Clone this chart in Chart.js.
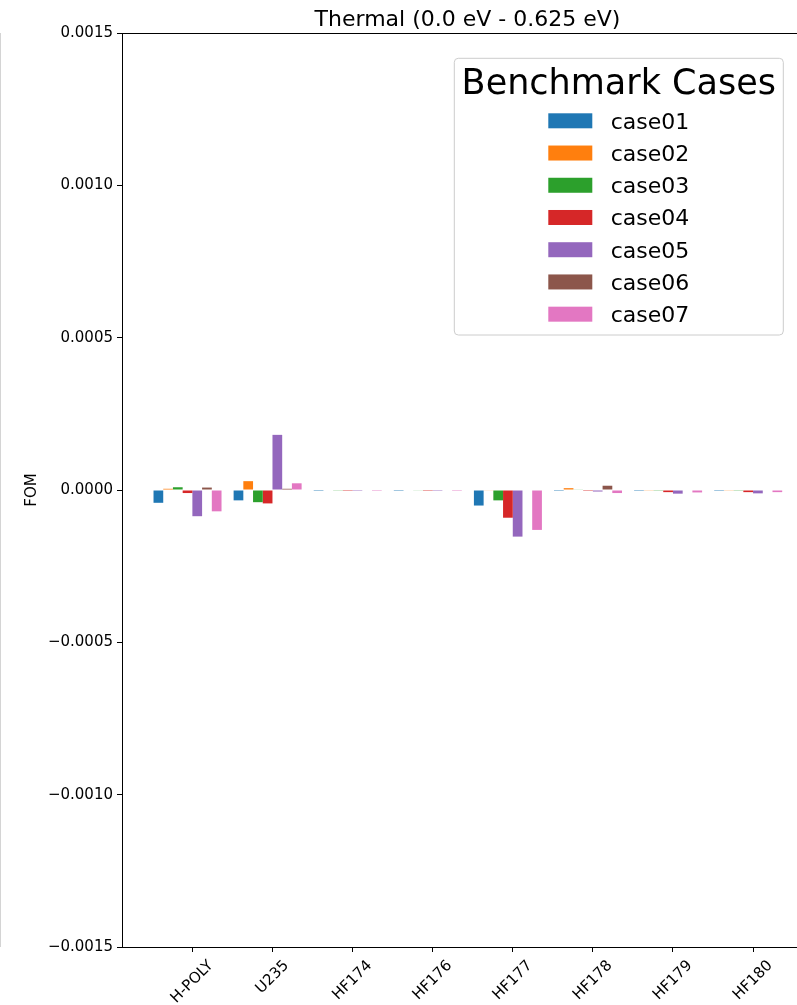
<!DOCTYPE html>
<html>
<head>
<meta charset="utf-8">
<script src="https://cdn.jsdelivr.net/npm/chart.js@4/dist/chart.umd.min.js"></script>
<style>
  html, body { margin: 0; padding: 0; background: #fff; overflow: hidden; }
  canvas { display: block; }
</style>
</head>
<body>
<canvas id="c" width="830" height="1005"></canvas>
<script>
// Isotopes / materials along the x axis
const categories = ['H-POLY', 'U235', 'HF174', 'HF176', 'HF177', 'HF178', 'HF179', 'HF180'];

// Figure of merit per benchmark case
const case01 = [-4.2e-5, -3.4e-5, -3e-6, -3e-6, -5.1e-5, -3e-6, -3e-6, -3e-6];
const case02 = [4e-6, 2.9e-5, 0, 0, -2e-6, 6e-6, -1e-6, -1e-6];
const case03 = [9e-6, -4.0e-5, -1e-6, -2e-6, -3.4e-5, 2e-6, -2.5e-6, -2.5e-6];
const case04 = [-1e-5, -4.4e-5, -3e-6, -3e-6, -9.1e-5, -3e-6, -7e-6, -7e-6];
const case05 = [-8.6e-5, 1.81e-4, -3e-6, -3e-6, -1.53e-4, -5e-6, -1.2e-5, -1.1e-5];
const case06 = [8e-6, 4e-6, 0, 0, 0, 1.4e-5, 0, 0];
const case07 = [-7.0e-5, 2.2e-5, -3e-6, -3e-6, -1.31e-4, -1e-5, -8e-6, -7e-6];

const caseNames = ['case01', 'case02', 'case03', 'case04', 'case05', 'case06', 'case07'];
const caseValues = [case01, case02, case03, case04, case05, case06, case07];
const caseColors = ['#1f77b4', '#ff7f0e', '#2ca02c', '#d62728', '#9467bd', '#8c564b', '#e377c2'];

// Y axis range and tick step
const yMin = -0.0015, yMax = 0.0015, yStep = 0.0005;

const chartTitle = 'Thermal (0.0 eV - 0.625 eV)';
const legendTitle = 'Benchmark Cases';
const yTitle = 'FOM';

const FONT = '"DejaVu Sans", "Liberation Sans", sans-serif';

const datasets = caseNames.map((name, k) => ({
  label: name,
  data: categories.map((_, i) => ({ x: i, y: caseValues[k][i] })),
  backgroundColor: caseColors[k],
  borderWidth: 0,
  categoryPercentage: 0.849,
  barPercentage: 1.0
}));

// Frame, title, rotated category labels and legend box
const decor = {
  id: 'decor',
  afterDraw(chart) {
    const { ctx, chartArea: a, scales } = chart;
    ctx.save();

    // neighbouring panel edge
    ctx.fillStyle = '#d4d4d4';
    ctx.fillRect(0, a.top, 1, a.bottom - a.top);

    // axes frame
    ctx.strokeStyle = '#000';
    ctx.lineWidth = 1;
    ctx.strokeRect(a.left + 0.5, a.top + 0.5, a.right - a.left, a.bottom - a.top);

    // title
    ctx.fillStyle = '#000';
    ctx.font = '22px ' + FONT;
    ctx.textAlign = 'center';
    ctx.textBaseline = 'alphabetic';
    ctx.fillText(chartTitle, (a.left + a.right) / 2, 26);

    // category labels, rotated 45 degrees and centred under each tick
    ctx.font = '15px ' + FONT;
    const lineH = 17.5;
    scales.x.ticks.forEach(t => {
      const label = categories[Math.round(t.value)];
      const px = scales.x.getPixelForValue(t.value);
      const w = ctx.measureText(label).width;
      const half = (w + lineH) * Math.SQRT1_2 / 2;
      ctx.save();
      ctx.translate(px, a.bottom + 10 + half);
      ctx.rotate(-Math.PI / 4);
      ctx.textAlign = 'center';
      ctx.textBaseline = 'middle';
      ctx.fillText(label, 0, 0);
      ctx.restore();
    });

    // legend
    const bx = 454.3, by = 58.3, bw = 329, bh = 276.7;
    ctx.beginPath();
    ctx.roundRect(bx, by, bw, bh, 4);
    ctx.fillStyle = 'rgba(255,255,255,0.8)';
    ctx.fill();
    ctx.strokeStyle = '#cccccc';
    ctx.lineWidth = 1;
    ctx.stroke();

    ctx.fillStyle = '#000';
    ctx.font = '35px ' + FONT;
    ctx.textAlign = 'center';
    ctx.textBaseline = 'alphabetic';
    ctx.fillText(legendTitle, bx + bw / 2, 94);

    ctx.font = '22px ' + FONT;
    ctx.textAlign = 'left';
    chart.data.datasets.forEach((ds, i) => {
      const cy = 120.8 + i * 32.23;
      ctx.fillStyle = ds.backgroundColor;
      ctx.fillRect(548.3, cy - 7.5, 44, 15);
      ctx.fillStyle = '#000';
      ctx.fillText(ds.label, 610.7, cy + 8);
    });

    ctx.restore();
  }
};

new Chart(document.getElementById('c'), {
  type: 'bar',
  data: { datasets },
  options: {
    responsive: false,
    animation: false,
    devicePixelRatio: 1,
    layout: { padding: { top: 33, left: 0, right: 17, bottom: 0 } },
    plugins: {
      legend: { display: false },
      title: { display: false },
      tooltip: { enabled: false }
    },
    scales: {
      x: {
        type: 'linear',
        min: -0.818,
        max: 7.809,
        offset: false,
        afterBuildTicks: s => { s.ticks = categories.map((_, i) => ({ value: i + 0.06 })); },
        afterFit: s => { s.height = 58; },
        ticks: { display: false, autoSkip: false },
        grid: {
          offset: false,
          drawOnChartArea: false,
          drawTicks: true,
          tickLength: 5,
          tickColor: '#000',
          lineWidth: 1
        },
        border: { display: false }
      },
      y: {
        min: yMin,
        max: yMax,
        afterFit: s => { s.width = 122; },
        ticks: {
          stepSize: yStep,
          padding: 4,
          color: '#000',
          font: { family: FONT, size: 15 },
          callback: v => {
            const n = Math.abs(v) < 1e-12 ? 0 : v;
            const s = Math.abs(n).toFixed(4);
            return n < 0 ? '\u2212' + s : s;
          }
        },
        grid: {
          drawOnChartArea: false,
          drawTicks: true,
          tickLength: 5,
          tickColor: '#000',
          lineWidth: 1
        },
        border: { display: false },
        title: {
          display: true,
          text: yTitle,
          color: '#000',
          font: { family: FONT, size: 15 },
          padding: { top: 23, bottom: 0 }
        }
      }
    }
  },
  plugins: [decor]
});
</script>
</body>
</html>
